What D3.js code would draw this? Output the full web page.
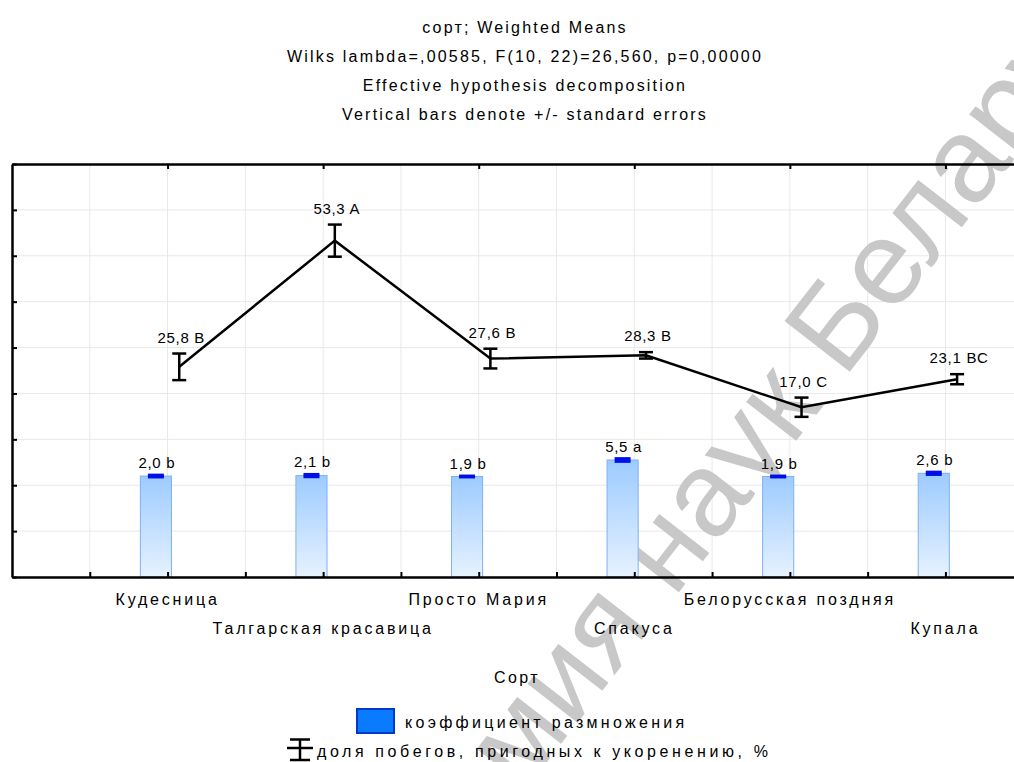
<!DOCTYPE html>
<html>
<head>
<meta charset="utf-8">
<script src="https://cdn.jsdelivr.net/npm/d3@7"></script>
<style>
  body { margin: 0; background: #fff; }
  text { font-family: "Liberation Sans", Arial, sans-serif; fill: #000; }
</style>
</head>
<body>
<div id="chart"></div>
<script>
// data
let varieties = ["Кудесница", "Талгарская красавица", "Просто Мария", "Спакуса", "Белорусская поздняя", "Купала"];
let coefMeans = [2.0, 2.1, 1.9, 5.5, 1.9, 2.6];
let coefErrors = [0.2, 0.25, 0.1, 0.3, 0.1, 0.25];
let coefLetters = ["b", "b", "b", "a", "b", "b"];
let shareMeans = [25.8, 53.3, 27.6, 28.3, 17.0, 23.1];
let shareErrors = [2.9, 3.5, 2.15, 0.7, 2.1, 1.1];
let shareLetters = ["B", "A", "B", "B", "C", "BC"];
let yTicks = [-20, -10, 0, 10, 20, 30, 40, 50, 60, 70];
let titleLines = ["сорт; Weighted Means",
                  "Wilks lambda=,00585, F(10, 22)=26,560, p=0,00000",
                  "Effective hypothesis decomposition",
                  "Vertical bars denote +/- standard errors"];
let legendNames = ["коэффициент размножения", "доля побегов, пригодных к укоренению, %"];
let watermark = "Академия наук Беларуси";

function fmt(v) { return d3.format(".1f")(v).replace(".", ","); }

function drawChart(selector) {
  let width = 1014, height = 762;
  let svg = d3.select("#" + selector).append("svg")
      .attr("width", width)
      .attr("height", height);

  let x = d3.scaleLinear().domain([0, 7]).range([12, 1101]);
  let y = d3.scaleLinear().domain([-20, 70]).range([577, 164]);
  let barShift = -0.075, lineShift = 0.075;
  let barW = x(0.2) - x(0);

  let defs = svg.append("defs");
  let grad = defs.append("linearGradient").attr("id", "barGrad")
      .attr("x1", 0).attr("y1", 0).attr("x2", 0).attr("y2", 1);
  grad.append("stop").attr("offset", "0%").attr("stop-color", "#9dcbff");
  grad.append("stop").attr("offset", "100%").attr("stop-color", "#e6f2ff");

  // titles
  svg.append("g").selectAll("text")
    .data(titleLines)
    .enter().append("text")
      .attr("x", 525)
      .attr("y", function(d, i) { return 32.5 + i * 29.2; })
      .attr("text-anchor", "middle")
      .style("font-size", "16px")
      .style("letter-spacing", "2.2px")
      .text(function(d) { return d; });

  // grid
  let grid = svg.append("g");
  grid.selectAll(".hg")
    .data(yTicks.slice(1, -1))
    .enter().append("line")
      .attr("x1", x(0)).attr("x2", x(7))
      .attr("y1", function(d) { return y(d); })
      .attr("y2", function(d) { return y(d); })
      .attr("stroke", "#e8e8e8");
  grid.selectAll(".vg")
    .data(d3.range(0.5, 7, 0.5))
    .enter().append("line")
      .attr("y1", y(-20)).attr("y2", y(70))
      .attr("x1", function(d) { return x(d); })
      .attr("x2", function(d) { return x(d); })
      .attr("stroke", "#e8e8e8");

  // watermark
  svg.append("text")
      .attr("transform", "translate(716,492) rotate(-52.2)")
      .attr("y", 32)
      .attr("text-anchor", "middle")
      .style("font-size", "120px")
      .style("fill", "#c8c8c8")
      .text(watermark);

  // bars
  svg.append("g").selectAll("rect")
    .data(coefMeans)
    .enter().append("rect")
      .attr("x", function(d, i) { return x(i + 1 + barShift) - barW / 2; })
      .attr("y", function(d) { return y(d); })
      .attr("width", barW)
      .attr("height", function(d) { return y(-20) - y(d); })
      .attr("fill", "url(#barGrad)")
      .attr("stroke", "#7eb1f3")
      .attr("stroke-width", 1);

  drawErrors(svg, coefMeans, coefErrors, function(i) { return x(i + 1 + barShift); }, y, "#0010e8", 16, 3);

  // line
  let line = d3.line()
      .x(function(d, i) { return x(i + 1 + lineShift); })
      .y(function(d) { return y(d); });
  svg.append("path")
      .datum(shareMeans)
      .attr("d", line)
      .attr("fill", "none")
      .attr("stroke", "#000")
      .attr("stroke-width", 2.5);

  drawErrors(svg, shareMeans, shareErrors, function(i) { return x(i + 1 + lineShift); }, y, "#000", 14, 2.5);

  // axes
  let left = svg.append("g").attr("transform", "translate(" + x(0) + ",0)")
      .call(d3.axisLeft(y).tickValues(yTicks).tickSize(-5).tickSizeOuter(0).tickFormat(""));
  let bottom = svg.append("g").attr("transform", "translate(0," + y(-20) + ")")
      .call(d3.axisBottom(x).tickValues(d3.range(0.5, 7.01, 0.5)).tickSize(-5).tickSizeOuter(0).tickFormat(""));
  let top = svg.append("g").attr("transform", "translate(0," + y(70) + ")")
      .call(d3.axisTop(x).tickValues(d3.range(1, 7)).tickSize(-5).tickSizeOuter(0).tickFormat(""));
  [left, bottom, top].forEach(function(a) {
    a.select(".domain").attr("stroke-width", 2.5);
    a.selectAll(".tick line").attr("stroke-width", 2);
  });

  // value labels
  svg.append("g").selectAll("text")
    .data(shareMeans)
    .enter().append("text")
      .attr("x", function(d, i) { return x(i + 1 + lineShift) + 2; })
      .attr("y", function(d, i) { return y(d + shareErrors[i]) - 11; })
      .attr("text-anchor", "middle")
      .style("font-size", "15px")
      .style("letter-spacing", "0.7px")
      .text(function(d, i) { return fmt(d) + " " + shareLetters[i]; });

  svg.append("g").selectAll("text")
    .data(coefMeans)
    .enter().append("text")
      .attr("x", function(d, i) { return x(i + 1 + barShift) + 1; })
      .attr("y", function(d, i) { return y(d + coefErrors[i]) - 7; })
      .attr("text-anchor", "middle")
      .style("font-size", "15px")
      .style("letter-spacing", "0.7px")
      .text(function(d, i) { return fmt(d) + " " + coefLetters[i]; });

  // category labels, staggered in two rows
  svg.append("g").selectAll("text")
    .data(varieties)
    .enter().append("text")
      .attr("x", function(d, i) { return x(i + 1); })
      .attr("y", function(d, i) { return i % 2 == 0 ? 605 : 634; })
      .attr("text-anchor", "middle")
      .style("font-size", "16px")
      .style("letter-spacing", "2.8px")
      .text(function(d) { return d; });

  svg.append("text")
      .attr("x", 517).attr("y", 683)
      .attr("text-anchor", "middle")
      .style("font-size", "16px")
      .style("letter-spacing", "2.4px")
      .text("Сорт");

  // legend
  let legend = svg.append("g");
  legend.append("rect")
      .attr("x", 357).attr("y", 709)
      .attr("width", 37).attr("height", 24)
      .attr("fill", "#0a7bff")
      .attr("stroke", "#0038c8")
      .attr("stroke-width", 2);
  legend.append("text")
      .attr("x", 405).attr("y", 728)
      .style("font-size", "16px")
      .style("letter-spacing", "3.3px")
      .text(legendNames[0]);
  let icon = legend.append("g").attr("stroke", "#000").attr("stroke-width", 2.5);
  icon.append("line").attr("x1", 300).attr("x2", 300).attr("y1", 739).attr("y2", 760);
  icon.append("line").attr("x1", 290).attr("x2", 310).attr("y1", 739.5).attr("y2", 739.5);
  icon.append("line").attr("x1", 290).attr("x2", 310).attr("y1", 760).attr("y2", 760);
  icon.append("line").attr("x1", 287).attr("x2", 313).attr("y1", 748).attr("y2", 748);
  legend.append("text")
      .attr("x", 317).attr("y", 757)
      .style("font-size", "16px")
      .style("letter-spacing", "3.6px")
      .text(legendNames[1]);
}

function drawErrors(svg, means, errors, xPos, y, color, capW, sw) {
  let g = svg.append("g").attr("stroke", color).attr("stroke-width", sw);
  let bars = g.selectAll("g")
    .data(means)
    .enter().append("g");
  bars.append("line")
      .attr("x1", function(d, i) { return xPos(i); })
      .attr("x2", function(d, i) { return xPos(i); })
      .attr("y1", function(d, i) { return y(d + errors[i]); })
      .attr("y2", function(d, i) { return y(d - errors[i]); });
  bars.append("line")
      .attr("x1", function(d, i) { return xPos(i) - capW / 2; })
      .attr("x2", function(d, i) { return xPos(i) + capW / 2; })
      .attr("y1", function(d, i) { return y(d + errors[i]); })
      .attr("y2", function(d, i) { return y(d + errors[i]); });
  bars.append("line")
      .attr("x1", function(d, i) { return xPos(i) - capW / 2; })
      .attr("x2", function(d, i) { return xPos(i) + capW / 2; })
      .attr("y1", function(d, i) { return y(d - errors[i]); })
      .attr("y2", function(d, i) { return y(d - errors[i]); });
}

drawChart("chart");
</script>
</body>
</html>
